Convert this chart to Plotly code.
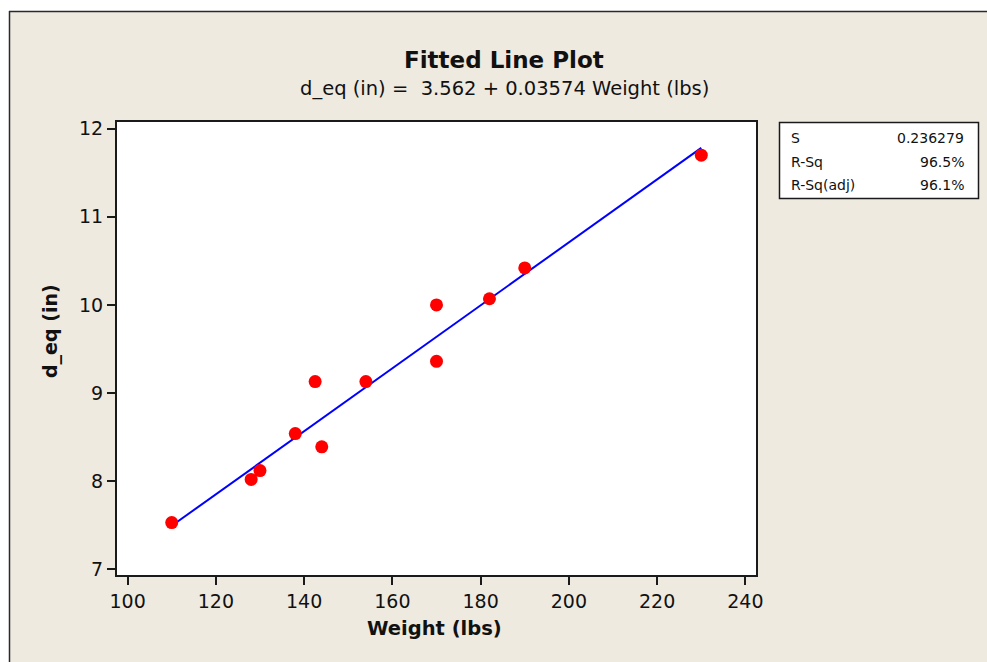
import plotly.graph_objects as go

# Observations: body weight vs. equivalent diameter
weight_lbs = [110, 128, 130, 138, 142.5, 144, 154, 170, 170, 182, 190, 230]
d_eq_in = [7.53, 8.02, 8.12, 8.54, 9.13, 8.39, 9.13, 10.00, 9.36, 10.07, 10.42, 11.70]

# Regression coefficients and summary statistics
intercept = 3.562
slope = 0.03574
stat_names = ["S", "R-Sq", "R-Sq(adj)"]
stat_values = ["0.236279", "96.5%", "96.1%"]

x_ticks = [100, 120, 140, 160, 180, 200, 220, 240]
y_ticks = [7, 8, 9, 10, 11, 12]

# Fitted line across the observed weight range
fit_x = [min(weight_lbs), max(weight_lbs)]
fit_y = [intercept + slope * v for v in fit_x]

FONT = "DejaVu Sans"
BG = "#EEEAE0"

# Figure geometry (pixels)
FIG_W, FIG_H = 987, 662
ML, MR, MT, MB = 117, 231, 122, 87
PW = FIG_W - ML - MR
PH = FIG_H - MT - MB


def px(x):
    return (x - ML) / PW


def py(y):
    return (FIG_H - MB - y) / PH


fig = go.Figure()

fig.add_trace(go.Scatter(
    x=fit_x, y=fit_y, mode="lines",
    line=dict(color="#0000FF", width=2),
    showlegend=False, hoverinfo="skip",
))
fig.add_trace(go.Scatter(
    x=weight_lbs, y=d_eq_in, mode="markers",
    marker=dict(color="#FF0000", size=13, line=dict(width=0)),
    showlegend=False,
))

axis_common = dict(
    showgrid=False, zeroline=False,
    showline=True, linecolor="#1a1a1a", linewidth=2, mirror=True,
    ticks="outside", ticklen=8, tickwidth=1.5, tickcolor="#1a1a1a",
    tickfont=dict(family=FONT, size=19, color="#111111"),
)

fig.update_xaxes(range=[97.6, 242.4], tickvals=x_ticks, **axis_common)
fig.update_yaxes(range=[6.935, 12.076], tickvals=y_ticks, **axis_common)

shapes = [
    # white strips around the panel
    dict(type="rect", xref="paper", yref="paper",
         x0=px(0), x1=px(FIG_W), y0=py(11), y1=py(0),
         fillcolor="white", line=dict(width=0), layer="below"),
    dict(type="rect", xref="paper", yref="paper",
         x0=px(0), x1=px(9), y0=py(FIG_H), y1=py(0),
         fillcolor="white", line=dict(width=0), layer="below"),
    # panel edge lines
    dict(type="line", xref="paper", yref="paper",
         x0=px(9), x1=px(FIG_W), y0=py(11.5), y1=py(11.5),
         line=dict(color="#2a2a2a", width=1.5)),
    dict(type="line", xref="paper", yref="paper",
         x0=px(9.5), x1=px(9.5), y0=py(11), y1=py(FIG_H),
         line=dict(color="#2a2a2a", width=1.5)),
    # statistics box
    dict(type="rect", xref="paper", yref="paper",
         x0=px(779.5), x1=px(978.5), y0=py(198.5), y1=py(122.5),
         fillcolor="white", line=dict(color="#1a1a1a", width=1.5)),
]

annotations = [
    dict(text="<b>Fitted Line Plot</b>", x=px(504), y=py(60),
         font=dict(family=FONT, size=23, color="#111111")),
    dict(text="d_eq (in) =  3.562 + 0.03574 Weight (lbs)", x=px(504), y=py(88),
         font=dict(family=FONT, size=19.5, color="#111111")),
    dict(text="<b>Weight (lbs)</b>", x=px(434), y=py(628),
         font=dict(family=FONT, size=19.5, color="#111111")),
    dict(text="<b>d_eq (in)</b>", x=px(50), y=py(331), textangle=-90,
         font=dict(family=FONT, size=19, color="#111111")),
]
for i, (name, val) in enumerate(zip(stat_names, stat_values)):
    yy = py(138 + i * 23.5)
    annotations.append(dict(text=name, x=px(789), y=yy, xanchor="left",
                            font=dict(family=FONT, size=14, color="#111111")))
    annotations.append(dict(text=val, x=px(966), y=yy, xanchor="right",
                            font=dict(family=FONT, size=14, color="#111111")))

for a in annotations:
    a.update(xref="paper", yref="paper", showarrow=False)
    a.setdefault("xanchor", "center")
    a.setdefault("yanchor", "middle")

fig.update_layout(
    width=FIG_W, height=FIG_H,
    margin=dict(l=ML, r=MR, t=MT, b=MB),
    paper_bgcolor=BG, plot_bgcolor="white",
    shapes=shapes, annotations=annotations,
    showlegend=False,
)

fig.write_html("out.html")
